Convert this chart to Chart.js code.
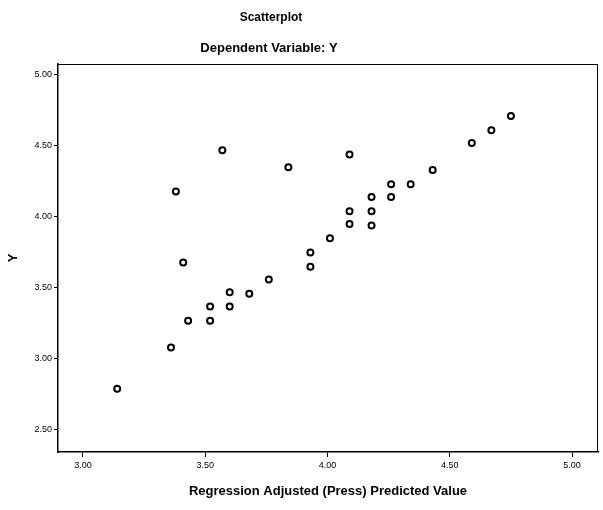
<!DOCTYPE html>
<html><head><meta charset="utf-8">
<script src="https://cdn.jsdelivr.net/npm/chart.js@4.4.0/dist/chart.umd.min.js"></script>
<style>html,body{margin:0;padding:0;background:#fff}#wrap{width:603px;height:510px}</style>
</head><body><div id="wrap"><canvas id="c" width="603" height="510"></canvas></div>
<script>
// Data
const predicted = [3.14, 3.36, 3.38, 3.41, 3.43, 3.52, 3.52, 3.57, 3.60, 3.60,
                   3.68, 3.76, 3.84, 3.93, 3.93, 4.01, 4.09, 4.09, 4.09, 4.18,
                   4.18, 4.18, 4.26, 4.26, 4.34, 4.43, 4.59, 4.67, 4.75];
const observed  = [2.79, 3.08, 4.18, 3.68, 3.27, 3.37, 3.27, 4.47, 3.47, 3.37,
                   3.46, 3.56, 4.35, 3.75, 3.65, 3.85, 4.44, 4.04, 3.95, 4.14,
                   4.04, 3.94, 4.23, 4.14, 4.23, 4.33, 4.52, 4.61, 4.71];
const xTicks = [3.0, 3.5, 4.0, 4.5, 5.0];
const yTicks = [2.5, 3.0, 3.5, 4.0, 4.5, 5.0];
const chartTitle = 'Scatterplot';
const chartSubtitle = 'Dependent Variable: Y';
const xTitle = 'Regression Adjusted (Press) Predicted Value';
const yTitle = 'Y';

const points = predicted.map((x, i) => ({x: x, y: observed[i]}));
const FONT = "'Liberation Sans', Arial, sans-serif";

const titlePlugin = {
  id: 'titles',
  afterDraw(chart) {
    const ctx = chart.ctx;
    ctx.save();
    ctx.fillStyle = '#000';
    ctx.textAlign = 'center';
    ctx.textBaseline = 'middle';
    ctx.font = 'bold 12px ' + FONT;
    ctx.fillText(chartTitle, 271, 18);
    ctx.font = 'bold 13px ' + FONT;
    ctx.fillText(chartSubtitle, 269, 48);
    ctx.restore();
  }
};
const framePlugin = {
  id: 'frame',
  afterDatasetsDraw(chart) {
    const a = chart.chartArea, ctx = chart.ctx;
    ctx.save();
    ctx.strokeStyle = '#000';
    ctx.lineWidth = 1;
    ctx.beginPath();
    ctx.moveTo(a.left, a.top + 0.5); ctx.lineTo(a.right, a.top + 0.5);
    ctx.moveTo(a.right - 0.5, a.top); ctx.lineTo(a.right - 0.5, a.bottom);
    ctx.stroke();
    ctx.restore();
  }
};

new Chart(document.getElementById('c'), {
  type: 'scatter',
  data: { datasets: [{
    data: points,
    pointRadius: 3,
    pointHoverRadius: 3,
    pointBorderWidth: 2,
    pointBorderColor: '#000',
    pointBackgroundColor: '#fff'
  }]},
  options: {
    responsive: false,
    animation: false,
    devicePixelRatio: 1,
    layout: { padding: { left: 6, right: 4, top: 64, bottom: 7 } },
    plugins: { legend: { display: false }, tooltip: { enabled: false }, title: { display: false } },
    scales: {
      x: {
        type: 'linear', min: 2.898, max: 5.106,
        afterBuildTicks: s => { s.ticks = xTicks.map(v => ({value: v})); },
        afterFit: s => { s.height = 51; },
        ticks: { color: '#000', font: { family: FONT, size: 9 }, padding: 3,
                 callback: v => Number(v).toFixed(2), maxRotation: 0 },
        grid: { drawOnChartArea: false, drawTicks: true, tickLength: 5, color: '#000' },
        border: { color: '#000', width: 1.5 },
        title: { display: true, text: xTitle, color: '#000',
                 font: { family: FONT, size: 13, weight: 'bold' }, padding: { top: 6 } }
      },
      y: {
        type: 'linear', min: 2.345, max: 5.077,
        afterBuildTicks: s => { s.ticks = yTicks.map(v => ({value: v})); },
        afterFit: s => { s.width = 52; },
        ticks: { color: '#000', font: { family: FONT, size: 9 }, padding: 2,
                 callback: v => Number(v).toFixed(2) },
        grid: { drawOnChartArea: false, drawTicks: true, tickLength: 4, color: '#000' },
        border: { color: '#000', width: 1.5 },
        title: { display: true, text: yTitle, color: '#000',
                 font: { family: FONT, size: 13, weight: 'bold' }, padding: 0 }
      }
    }
  },
  plugins: [titlePlugin, framePlugin]
});
</script>
</body></html>
